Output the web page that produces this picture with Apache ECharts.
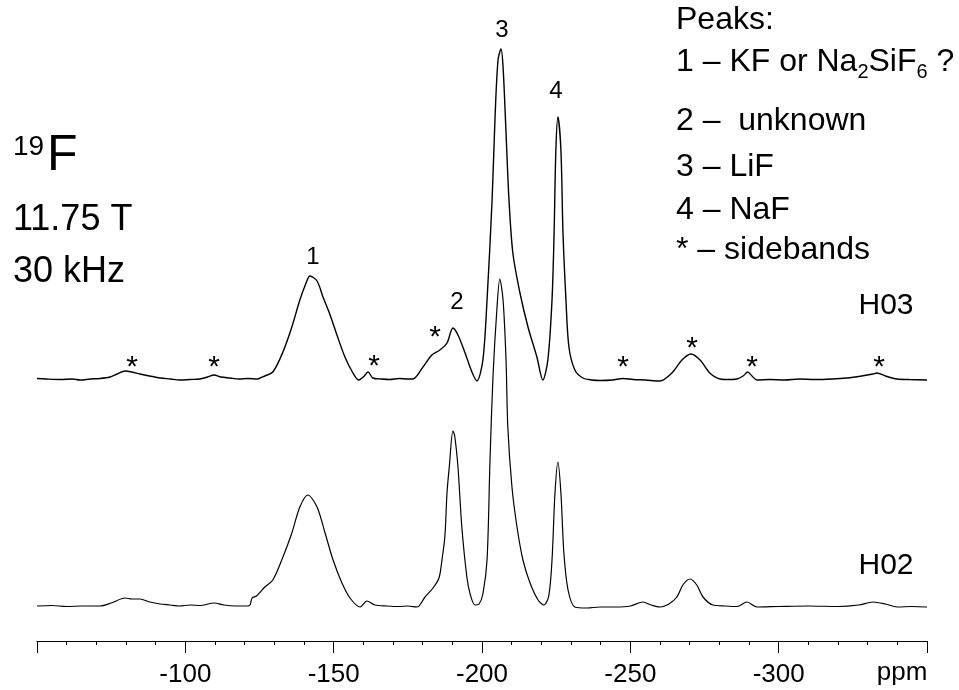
<!DOCTYPE html>
<html>
<head>
<meta charset="utf-8">
<script src="https://cdn.jsdelivr.net/npm/echarts@6/dist/echarts.min.js"></script>
<style>
  html, body { margin: 0; padding: 0; background: #fff; }
  #chart { width: 959px; height: 690px; }
</style>
</head>
<body>
<div id="chart"></div>
<script>
// ---- data: [chemical shift (ppm), intensity (a.u.)] ----
const h03 = [
  [-50.0, 0.5], [-53, 0], [-57.8, -0.5], [-62, 0], [-64.5, -1], [-68, 0], [-71.2, 0.5],
  [-74.6, 2], [-77, 5], [-79.7, 8], [-82, 7], [-84.7, 5], [-88, 3], [-91.5, 1], [-95, 0],
  [-98, -1], [-101.6, -0.5], [-104.9, 0], [-107.5, 2], [-109.7, 4], [-112, 2], [-115.0, 1],
  [-118, 0], [-121, 0.5], [-124.5, 0], [-125.2, 1], [-126.8, 3], [-129.5, 7], [-132.9, 27],
  [-135.9, 52], [-138.6, 79], [-140.7, 96], [-142.0, 103], [-144.4, 98], [-146.4, 82],
  [-148.8, 64], [-151.1, 44], [-153.8, 22], [-156.5, 6], [-158.5, -1], [-160, 2], [-161.6, 7],
  [-163.2, 1], [-166, 0], [-169, -0.5], [-172, 0.5], [-175, 0], [-176.7, 0], [-180.1, 12],
  [-183.1, 24], [-185.8, 29], [-188.2, 36], [-190.2, 51], [-191.9, 44], [-194.3, 26],
  [-196.6, 7], [-198.3, -2], [-200.3, 19], [-201.7, 79], [-203.4, 179], [-204.4, 262],
  [-205.4, 319], [-206.4, 330], [-207.1, 312], [-208.1, 246], [-209.1, 179], [-210.4, 126],
  [-212.8, 86], [-215.5, 52], [-218.5, 22], [-220.5, -1], [-222.2, 19], [-223.6, 79],
  [-224.3, 146], [-224.9, 229], [-225.6, 262], [-226.6, 229], [-227.3, 146], [-228.3, 79],
  [-229.3, 32], [-231.3, 9], [-234.0, 1], [-237, -1], [-240, -1.5], [-244, -1], [-247.5, 0.5],
  [-251, -0.5], [-255, -1], [-260.0, -2], [-264.0, 6], [-267.4, 19], [-270.4, 25], [-273.5, 19],
  [-276.8, 6], [-280.2, 0], [-283, -0.5], [-285.9, 0], [-288, 3], [-289.6, 7], [-291, 3],
  [-292.7, -1], [-297, -0.5], [-302, -1], [-307, 0], [-312, -0.5], [-318, 0], [-323.0, 1],
  [-328, 3], [-331.8, 5], [-333.1, 6], [-336, 3], [-339.9, 0], [-344, -0.5], [-350.0, -1]
];
const h02 = [
  [-50.0, 0], [-55, 0.5], [-60, -0.5], [-65, 0], [-71.2, 0], [-75, 3], [-79.7, 8], [-82, 7],
  [-84.7, 7], [-88, 4], [-91.5, 2], [-94.8, 1], [-98, 0], [-101.6, 1], [-105, 0.5], [-109.7, 3],
  [-113, 1], [-117, 0], [-120.8, 0], [-121.8, 1], [-122.5, 8], [-124, 10], [-126.8, 19],
  [-129.5, 26], [-132.9, 49], [-135.9, 73], [-138.6, 99], [-141.3, 111], [-144.4, 99],
  [-147.1, 73], [-149.8, 46], [-152.8, 23], [-155.5, 8], [-158.9, -1], [-161.2, 5], [-163.9, 1],
  [-168, 0], [-172, -0.5], [-175, 0], [-178.1, -1], [-180.8, 9], [-183.5, 18], [-185.5, 28],
  [-186.5, 46], [-187.5, 70], [-188.2, 113], [-189.0, 140], [-190.2, 175], [-190.8, 170],
  [-191.9, 139], [-193.2, 79], [-194.9, 29], [-196, 12], [-197.6, 1], [-199, 2], [-200.3, 12],
  [-201.7, 46], [-202.7, 146], [-203.7, 229], [-205.0, 296], [-206.0, 327], [-207.1, 306],
  [-208.1, 246], [-208.7, 179], [-210.1, 119], [-211.8, 79], [-213.8, 46], [-216.2, 23],
  [-218.9, 6], [-220.9, 1], [-222.5, 10], [-223.6, 46], [-224.6, 113], [-225.6, 144],
  [-226.6, 113], [-227.6, 53], [-229.0, 16], [-231.3, -1], [-235.4, -2], [-239.8, -1],
  [-245, -1], [-250, 0], [-254.2, 4], [-257, 1], [-260.0, -1], [-263, 2], [-265.7, 9],
  [-267.7, 21], [-270.1, 27], [-272.4, 21], [-274.5, 9], [-277.8, 1], [-282, 0], [-286, -0.5],
  [-289.3, 4], [-292.7, -1], [-300, -0.5], [-310, 0], [-320, -0.5], [-327, 1], [-331.8, 4],
  [-336, 2], [-339.9, -1], [-345, -0.5], [-350, -1]
];
const legendLines = ['Peaks:', '1 – KF or Na₂SiF₆ ?', '2 –  unknown', '3 – LiF', '4 – NaF', '* – sidebands'];

// ---- layout ----
const H03_OFFSET = 227;
const FONT = '"Liberation Sans", Arial, Helvetica, sans-serif';

const chart = echarts.init(document.getElementById('chart'), null, { renderer: 'canvas' });

function txt(x, y, text, size, align) {
  return {
    type: 'text', x: x, y: y, silent: true,
    style: { text: text, fontSize: size, fontFamily: FONT, fill: '#000',
             align: align || 'left', verticalAlign: 'middle' }
  };
}
const star = (x, y) => txt(x, y + 7, '*', 30, 'center');

const graphics = [
  txt(13, 147, '19', 28),
  txt(47, 156, 'F', 50),
  txt(13, 220, '11.75 T', 36),
  txt(13, 272, '30 kHz', 36),
  txt(676, 20.5, legendLines[0], 32),
  {
    type: 'text', x: 676, y: 62, silent: true,
    style: {
      text: '{m|1 – KF or Na}{s|2}{m|SiF}{s|6}{m| ?}',
      fontFamily: FONT, fill: '#000', verticalAlign: 'middle',
      rich: {
        m: { fontSize: 32, lineHeight: 40, fontFamily: FONT, fill: '#000' },
        s: { fontSize: 20, lineHeight: 14, verticalAlign: 'bottom', fontFamily: FONT, fill: '#000' }
      }
    }
  },
  txt(676, 121.5, legendLines[2], 32),
  txt(676, 167.5, legendLines[3], 32),
  txt(676, 210.5, legendLines[4], 32),
  txt(676, 250.5, legendLines[5], 32),
  txt(313, 257, '1', 24, 'center'),
  txt(457, 302, '2', 24, 'center'),
  txt(502, 30, '3', 24, 'center'),
  txt(556, 91, '4', 24, 'center'),
  star(132, 361), star(214, 361), star(374, 360), star(435, 331),
  star(623, 361), star(692, 342), star(752, 361), star(879, 361),
  txt(886, 306, 'H03', 30, 'center'),
  txt(886, 566, 'H02', 30, 'center'),
  txt(902, 673, 'ppm', 26, 'center')
];

chart.setOption({
  animation: false,
  backgroundColor: '#fff',
  grid: { left: 37, right: 32, top: 0, bottom: 49, containLabel: false },
  xAxis: {
    type: 'value', min: -350, max: -50, interval: 50, inverse: true,
    axisLine: { show: true, onZero: false, lineStyle: { color: '#000', width: 1 } },
    axisTick: { show: true, inside: false, length: 12, lineStyle: { color: '#000', width: 1 } },
    minorTick: { show: true, splitNumber: 5, length: 4, lineStyle: { color: '#000', width: 1 } },
    splitLine: { show: false },
    axisLabel: {
      margin: 21, fontSize: 26, fontFamily: FONT, color: '#000',
      formatter: v => (v === -50 || v === -350) ? '' : String(v)
    }
  },
  yAxis: { type: 'value', min: -35, max: 606, show: false, splitLine: { show: false } },
  series: [
    {
      name: 'H02', type: 'line', data: h02, symbol: 'none', smooth: 0.3,
      lineStyle: { color: '#000', width: 1.2 }, z: 2
    },
    {
      name: 'H03', type: 'line', data: h03.map(p => [p[0], p[1] + H03_OFFSET]), symbol: 'none', smooth: 0.3,
      lineStyle: { color: '#000', width: 1.4 }, z: 3
    }
  ],
  graphic: graphics
});
</script>
</body>
</html>
